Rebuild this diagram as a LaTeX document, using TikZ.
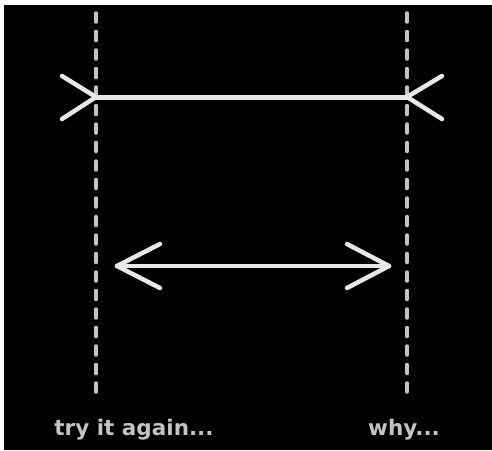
\documentclass[tikz,border=0pt]{standalone}
\usepackage{fontspec}
\usepackage{tikz}
\usepackage{tkz-euclide}
\newfontfamily\capfont{DejaVu Sans}
\definecolor{chalk}{HTML}{E8E8E8}
\definecolor{chalkgrey}{HTML}{C4C4C4}
\tikzset{
  guide/.style={chalkgrey, line width=3.5pt, dash pattern=on 9pt off 9.5pt},
  shaft/.style={chalk, line width=5pt},
  fin/.style={chalk, line width=4.5pt, line cap=round},
  caption/.style={chalkgrey, font=\capfont\bfseries\fontsize{21.5}{24}\selectfont, inner sep=0pt}
}

\begin{document}
\begin{tikzpicture}[x=1pt,y=-1pt]
                \useasboundingbox (0,0) rectangle (492,450);
                \fill[black] (4,5) rectangle (492,450);
                % the two guide lines
                \tkzDefPoint(96,13){L1}
                \tkzDefPoint(96,392){L2}
                \tkzDefPoint(407,13){R1}
                \tkzDefPoint(407,392){R2}
                \tkzDrawSegments[guide](L1,L2 R1,R2)
                % upper segment, fins outward
                \tkzDefPoint(96,97){A}
                \tkzDefPoint(407,97){B}
                \tkzDefPoint(62,76){A1}
                \tkzDefPoint(62,119){A2}
                \tkzDefPoint(442,76){B1}
                \tkzDefPoint(442,119){B2}
                \tkzDrawSegments[shaft](A,B)
                \tkzDrawSegments[fin](A,A1 A,A2 B,B1 B,B2)
                % lower segment, fins inward
                \tkzDefPoint(117,266){C}
                \tkzDefPoint(389,266){D}
                \tkzDefPoint(160,244){C1}
                \tkzDefPoint(160,288){C2}
                \tkzDefPoint(347,244){D1}
                \tkzDefPoint(347,288){D2}
                \tkzDrawSegments[shaft, line width=4pt](C,D)
                \tkzDrawSegments[fin](C,C1 C,C2 D,D1 D,D2)
                \node[caption, anchor=base] (capL) at (134,435) {try it again...};
                \node[caption, anchor=base] (capR) at (404,435) {why...};
            \end{tikzpicture}
\end{document}
